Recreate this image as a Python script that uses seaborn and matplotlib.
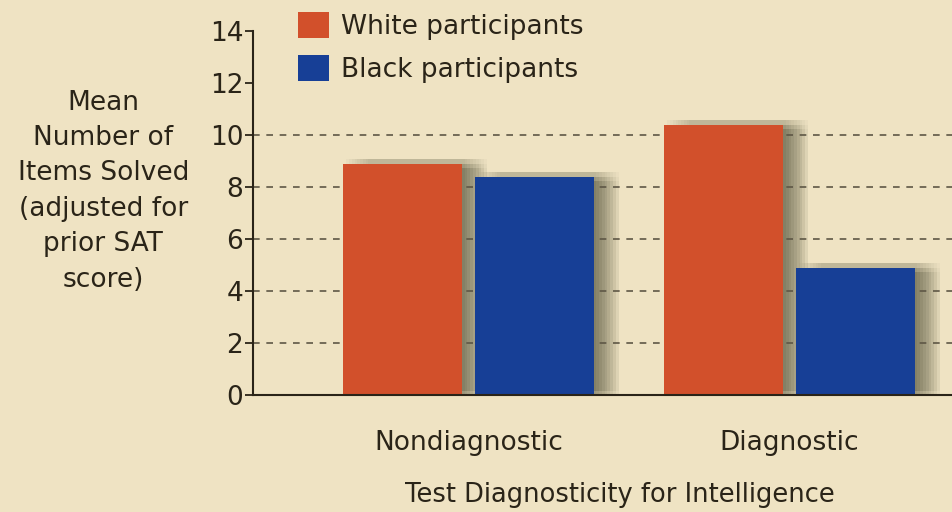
import pandas as pd
import seaborn as sns
import matplotlib.pyplot as plt
import matplotlib.patheffects as pe

# data
conditions = ["Nondiagnostic", "Diagnostic"]
groups = ["White participants", "Black participants"]
white_scores = [8.9, 10.4]
black_scores = [8.4, 4.9]

# esthetics
bg_color = "#efe3c3"
palette = {
    "White participants": "#d2502b",  # orange red
    "Black participants": "#173f96",  # blue
}
font_size = 19
ink = "#2a2418"

sns.set_theme(style="white")
plt.rcParams["font.family"] = ["DejaVu Sans"]

df = pd.DataFrame({
    "Condition": conditions * 2,
    "Group": [groups[0]] * 2 + [groups[1]] * 2,
    "Items": white_scores + black_scores,
})

fig = plt.figure(figsize=(9.53, 5.12), dpi=100, facecolor=bg_color)
ax = fig.add_axes([0.2655, 0.2285, 0.7345, 0.711])
ax.set_facecolor(bg_color)

bar_kws = dict(
    data=df, x="Condition", y="Items", hue="Group",
    order=conditions, hue_order=groups,
    width=0.82, gap=0.1, saturation=1, errorbar=None,
    linewidth=0, ax=ax,
)

# shadow layer: same bars, only their blurred drop shadow gets drawn
sns.barplot(**bar_kws, color="#55553f", legend=False, zorder=1)
shadow = []
for dx in range(2, 19, 2):
    for dy in (-3, 0, 3):
        shadow.append(pe.SimplePatchShadow(offset=(dx, dy), shadow_rgbFace="#505038", alpha=0.035))
n_shadow = len(ax.patches)
for bar in ax.patches:
    bar.set_path_effects(shadow)

# dashed guide lines above the shadows, under the bars
for yv in [2, 4, 6, 8, 10]:
    ax.axhline(yv, color="#5e5746", lw=1.2, ls=(0, (4, 4)), zorder=1.5)

sns.barplot(**bar_kws, palette=palette, zorder=2)

ax.set_xlim(-0.671, 1.509)
ax.set_ylim(0, 14)
ax.set_yticks(range(0, 15, 2))

for side in ["top", "right"]:
    ax.spines[side].set_visible(False)
for side in ["left", "bottom"]:
    ax.spines[side].set_color(ink)
    ax.spines[side].set_linewidth(1.5)

ax.tick_params(axis="y", left=True, length=6, width=1.3, color=ink,
               labelsize=font_size, labelcolor=ink, pad=1)
ax.tick_params(axis="x", bottom=False, length=0, labelsize=font_size,
               labelcolor=ink, pad=25)

ax.set_xlabel("Test Diagnosticity for Intelligence", fontsize=18.5, color=ink)
ax.xaxis.set_label_coords(0.524, -0.275)
ax.xaxis.label.set_verticalalignment("center")
ax.set_ylabel("Mean\nNumber of\nItems Solved\n(adjusted for\nprior SAT\nscore)",
              fontsize=font_size, color=ink, rotation=0, ha="center", va="center",
              linespacing=1.47)
ax.yaxis.set_label_coords(-0.214, 0.56)

leg = ax.legend(
    loc="upper left", bbox_to_anchor=(0.031, 1.117), frameon=False,
    fontsize=font_size, handlelength=1.15, handleheight=1.15,
    handletextpad=0.45, labelspacing=0.55, labelcolor=ink,
)

fig.savefig("out.png", dpi=100, facecolor=bg_color)
